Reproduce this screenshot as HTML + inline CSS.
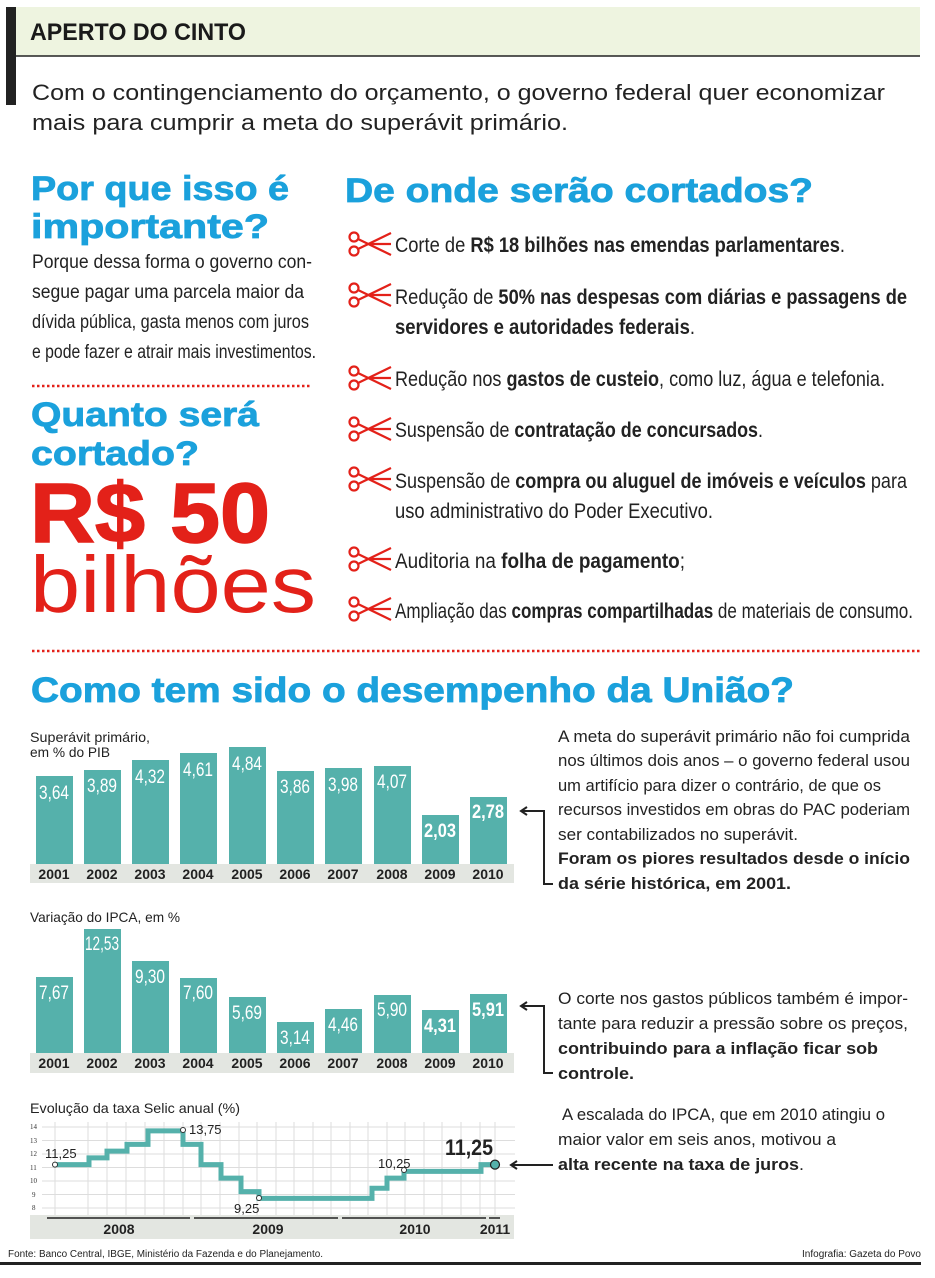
<!DOCTYPE html>
<html><head><meta charset="utf-8"><style>
html,body{margin:0;padding:0;background:#fff;}
svg{display:block;font-family:"Liberation Sans",sans-serif;}
.b{font-weight:bold;}
.w{fill:#fff;}
</style></head><body>
<svg width="935" height="1278" viewBox="0 0 935 1278" xmlns="http://www.w3.org/2000/svg">
<defs>
<g id="sc" fill="none" stroke="#e32119" stroke-width="2.2">
<circle cx="7" cy="6" r="4.5"/><circle cx="7" cy="20" r="4.5"/>
<path d="M11 8 L44 24 M11 18 L44 2 M22 13 L44 13"/>
</g>
</defs>
<!-- header -->
<rect x="12" y="7" width="908" height="49" fill="#eef4e0"/>
<rect x="6" y="7" width="10" height="98" fill="#222"/>
<line x1="16" y1="56" x2="920" y2="56" stroke="#222" stroke-width="1.5"/>
<text x="30" y="40" font-size="24" class="b" fill="#1a1a1a" textLength="216" lengthAdjust="spacingAndGlyphs">APERTO DO CINTO</text>
<text x="32" y="100" font-size="22" fill="#222" textLength="853" lengthAdjust="spacingAndGlyphs">Com o contingenciamento do orçamento, o governo federal quer economizar</text>
<text x="32" y="130" font-size="22" fill="#222" textLength="536" lengthAdjust="spacingAndGlyphs">mais para cumprir a meta do superávit primário.</text>

<!-- left column -->
<g fill="#1ba1dc" class="b" font-size="34" stroke="#1ba1dc" stroke-width="0.8">
<text x="31" y="200" textLength="258" lengthAdjust="spacingAndGlyphs">Por que isso é</text>
<text x="31" y="238" textLength="238" lengthAdjust="spacingAndGlyphs">importante?</text>
<text x="31" y="426" textLength="228" lengthAdjust="spacingAndGlyphs">Quanto será</text>
<text x="31" y="465" textLength="168" lengthAdjust="spacingAndGlyphs">cortado?</text>
</g>
<g fill="#222" font-size="19">
<text x="32" y="268" textLength="280" lengthAdjust="spacingAndGlyphs">Porque dessa forma o governo con-</text>
<text x="32" y="298" textLength="272" lengthAdjust="spacingAndGlyphs">segue pagar uma parcela maior da</text>
<text x="32" y="328" textLength="277" lengthAdjust="spacingAndGlyphs">dívida pública, gasta menos com juros</text>
<text x="32" y="358" textLength="284" lengthAdjust="spacingAndGlyphs">e pode fazer e atrair mais investimentos.</text>
</g>
<line x1="32" y1="386" x2="312" y2="386" stroke="#e32119" stroke-width="2.5" stroke-dasharray="2.5 2.5"/>
<text x="30" y="542" font-size="84" class="b" fill="#e32119" stroke="#e32119" stroke-width="1.5" textLength="240" lengthAdjust="spacingAndGlyphs">R$ 50</text>
<text x="30" y="612" font-size="80" fill="#e32119" textLength="286" lengthAdjust="spacingAndGlyphs">bilhões</text>

<!-- right column -->
<text x="345" y="202" font-size="34" class="b" fill="#1ba1dc" stroke="#1ba1dc" stroke-width="0.8" textLength="468" lengthAdjust="spacingAndGlyphs">De onde serão cortados?</text>
<use href="#sc" x="347" y="231"/>
<use href="#sc" x="347" y="282"/>
<use href="#sc" x="347" y="365"/>
<use href="#sc" x="347" y="416"/>
<use href="#sc" x="347" y="466"/>
<use href="#sc" x="347" y="546"/>
<use href="#sc" x="347" y="596"/>
<g fill="#222" font-size="21">
<text x="395" y="252" textLength="450" lengthAdjust="spacingAndGlyphs">Corte de <tspan class="b">R$ 18 bilhões nas emendas parlamentares</tspan>.</text>
<text x="395" y="304" textLength="512" lengthAdjust="spacingAndGlyphs">Redução de <tspan class="b">50% nas despesas com diárias e passagens de</tspan></text>
<text x="395" y="334" textLength="300" lengthAdjust="spacingAndGlyphs"><tspan class="b">servidores e autoridades federais</tspan>.</text>
<text x="395" y="386" textLength="490" lengthAdjust="spacingAndGlyphs">Redução nos <tspan class="b">gastos de custeio</tspan>, como luz, água e telefonia.</text>
<text x="395" y="437" textLength="368" lengthAdjust="spacingAndGlyphs">Suspensão de <tspan class="b">contratação de concursados</tspan>.</text>
<text x="395" y="488" textLength="512" lengthAdjust="spacingAndGlyphs">Suspensão de <tspan class="b">compra ou aluguel de imóveis e veículos</tspan> para</text>
<text x="395" y="518" textLength="318" lengthAdjust="spacingAndGlyphs">uso administrativo do Poder Executivo.</text>
<text x="395" y="568" textLength="290" lengthAdjust="spacingAndGlyphs">Auditoria na <tspan class="b">folha de pagamento</tspan>;</text>
<text x="395" y="618" textLength="518" lengthAdjust="spacingAndGlyphs">Ampliação das <tspan class="b">compras compartilhadas</tspan> de materiais de consumo.</text>
</g>
<line x1="32" y1="651" x2="920" y2="651" stroke="#e32119" stroke-width="2.5" stroke-dasharray="2.5 2.5"/>
<text x="31" y="702" font-size="35" class="b" fill="#1ba1dc" stroke="#1ba1dc" stroke-width="0.8" textLength="763" lengthAdjust="spacingAndGlyphs">Como tem sido o desempenho da União?</text>

<!-- chart 1 -->
<text x="30" y="742" font-size="14" fill="#222" textLength="120" lengthAdjust="spacingAndGlyphs">Superávit primário,</text>
<text x="30" y="757" font-size="14" fill="#222" textLength="80" lengthAdjust="spacingAndGlyphs">em % do PIB</text>
<rect x="30" y="864" width="484" height="19" fill="#e3e6e1"/>
<g fill="#55b1ab">
<rect x="36" y="776" width="37" height="88"/>
<rect x="84" y="770" width="37" height="94"/>
<rect x="132" y="760" width="37" height="104"/>
<rect x="180" y="753" width="37" height="111"/>
<rect x="229" y="747" width="37" height="117"/>
<rect x="277" y="771" width="37" height="93"/>
<rect x="325" y="768" width="37" height="96"/>
<rect x="374" y="766" width="37" height="98"/>
<rect x="422" y="815" width="37" height="49"/>
<rect x="470" y="797" width="37" height="67"/>
</g>
<g class="w" font-size="19" text-anchor="middle">
<text x="54" y="799" textLength="30" lengthAdjust="spacingAndGlyphs">3,64</text><text x="102" y="792" textLength="30" lengthAdjust="spacingAndGlyphs">3,89</text><text x="150" y="783" textLength="30" lengthAdjust="spacingAndGlyphs">4,32</text>
<text x="198" y="776" textLength="30" lengthAdjust="spacingAndGlyphs">4,61</text><text x="247" y="770" textLength="30" lengthAdjust="spacingAndGlyphs">4,84</text><text x="295" y="793" textLength="30" lengthAdjust="spacingAndGlyphs">3,86</text>
<text x="343" y="791" textLength="30" lengthAdjust="spacingAndGlyphs">3,98</text><text x="392" y="788" textLength="30" lengthAdjust="spacingAndGlyphs">4,07</text>
<text x="440" y="837" class="b" textLength="32" lengthAdjust="spacingAndGlyphs">2,03</text><text x="488" y="818" class="b" textLength="32" lengthAdjust="spacingAndGlyphs">2,78</text>
</g>
<g fill="#222" font-size="14" text-anchor="middle" class="b">
<text x="54" y="879">2001</text><text x="102" y="879">2002</text><text x="150" y="879">2003</text><text x="198" y="879">2004</text><text x="247" y="879">2005</text><text x="295" y="879">2006</text><text x="343" y="879">2007</text><text x="392" y="879">2008</text><text x="440" y="879">2009</text><text x="488" y="879">2010</text>
</g>
<g stroke="#222" stroke-width="2" fill="none">
<path d="M522 811 H544 V884 H553"/>
<path d="M527 807 L521 811 L527 815"/>
</g>
<g fill="#222" font-size="17">
<text x="558" y="742" textLength="352" lengthAdjust="spacingAndGlyphs">A meta do superávit primário não foi cumprida</text>
<text x="558" y="766" textLength="352" lengthAdjust="spacingAndGlyphs">nos últimos dois anos – o governo federal usou</text>
<text x="558" y="791" textLength="323" lengthAdjust="spacingAndGlyphs">um artifício para dizer o contrário, de que os</text>
<text x="558" y="815" textLength="352" lengthAdjust="spacingAndGlyphs">recursos investidos em obras do PAC poderiam</text>
<text x="558" y="840" textLength="240" lengthAdjust="spacingAndGlyphs">ser contabilizados no superávit.</text>
<text x="558" y="864" class="b" textLength="352" lengthAdjust="spacingAndGlyphs">Foram os piores resultados desde o início</text>
<text x="558" y="889" class="b" textLength="233" lengthAdjust="spacingAndGlyphs">da série histórica, em 2001.</text>
</g>

<!-- chart 2 -->
<text x="30" y="922" font-size="14" fill="#222" textLength="150" lengthAdjust="spacingAndGlyphs">Variação do IPCA, em %</text>
<rect x="30" y="1053" width="484" height="20" fill="#e3e6e1"/>
<g fill="#55b1ab">
<rect x="36" y="977" width="37" height="76"/>
<rect x="84" y="929" width="37" height="124"/>
<rect x="132" y="961" width="37" height="92"/>
<rect x="180" y="978" width="37" height="75"/>
<rect x="229" y="997" width="37" height="56"/>
<rect x="277" y="1022" width="37" height="31"/>
<rect x="325" y="1009" width="37" height="44"/>
<rect x="374" y="995" width="37" height="58"/>
<rect x="422" y="1010" width="37" height="43"/>
<rect x="470" y="994" width="37" height="59"/>
</g>
<g class="w" font-size="19" text-anchor="middle">
<text x="54" y="999" textLength="30" lengthAdjust="spacingAndGlyphs">7,67</text><text x="102" y="950" textLength="34" lengthAdjust="spacingAndGlyphs">12,53</text><text x="150" y="983" textLength="30" lengthAdjust="spacingAndGlyphs">9,30</text>
<text x="198" y="999" textLength="30" lengthAdjust="spacingAndGlyphs">7,60</text><text x="247" y="1019" textLength="30" lengthAdjust="spacingAndGlyphs">5,69</text><text x="295" y="1044" textLength="30" lengthAdjust="spacingAndGlyphs">3,14</text>
<text x="343" y="1031" textLength="30" lengthAdjust="spacingAndGlyphs">4,46</text><text x="392" y="1016" textLength="30" lengthAdjust="spacingAndGlyphs">5,90</text>
<text x="440" y="1032" class="b" textLength="32" lengthAdjust="spacingAndGlyphs">4,31</text><text x="488" y="1016" class="b" textLength="32" lengthAdjust="spacingAndGlyphs">5,91</text>
</g>
<g fill="#222" font-size="14" text-anchor="middle" class="b">
<text x="54" y="1068">2001</text><text x="102" y="1068">2002</text><text x="150" y="1068">2003</text><text x="198" y="1068">2004</text><text x="247" y="1068">2005</text><text x="295" y="1068">2006</text><text x="343" y="1068">2007</text><text x="392" y="1068">2008</text><text x="440" y="1068">2009</text><text x="488" y="1068">2010</text>
</g>
<g stroke="#222" stroke-width="2" fill="none">
<path d="M522 1006 H544 V1073 H553"/>
<path d="M527 1002 L521 1006 L527 1010"/>
</g>
<g fill="#222" font-size="17">
<text x="558" y="1004" textLength="350" lengthAdjust="spacingAndGlyphs">O corte nos gastos públicos também é impor-</text>
<text x="558" y="1029" textLength="350" lengthAdjust="spacingAndGlyphs">tante para reduzir a pressão sobre os preços,</text>
<text x="558" y="1054" class="b" textLength="320" lengthAdjust="spacingAndGlyphs">contribuindo para a inflação ficar sob</text>
<text x="558" y="1079" class="b" textLength="76" lengthAdjust="spacingAndGlyphs">controle.</text>
</g>

<!-- chart 3 Selic -->
<text x="30" y="1113" font-size="14" fill="#222" textLength="210" lengthAdjust="spacingAndGlyphs">Evolução da taxa Selic anual (%)</text>
<g stroke="#ddd" stroke-width="1">
<line x1="42" y1="1127" x2="515" y2="1127"/><line x1="42" y1="1140.5" x2="515" y2="1140.5"/><line x1="42" y1="1154" x2="515" y2="1154"/><line x1="42" y1="1167.5" x2="515" y2="1167.5"/><line x1="42" y1="1181" x2="515" y2="1181"/><line x1="42" y1="1194.5" x2="515" y2="1194.5"/><line x1="42" y1="1208" x2="515" y2="1208"/>
<path d="M55 1122V1215M88 1122V1215M107 1122V1215M126 1122V1215M145 1122V1215M164 1122V1215M183 1122V1215M201 1122V1215M220 1122V1215M239 1122V1215M257 1122V1215M276 1122V1215M294 1122V1215M313 1122V1215M331 1122V1215M350 1122V1215M368 1122V1215M387 1122V1215M405 1122V1215M424 1122V1215M442 1122V1215M461 1122V1215M480 1122V1215M495 1122V1215"/>
</g>
<g fill="#333" font-size="7" font-family="Liberation Serif, serif">
<text x="30" y="1129">14</text><text x="30" y="1143">13</text><text x="30" y="1156">12</text><text x="30" y="1170">11</text><text x="30" y="1183">10</text><text x="32" y="1197">9</text><text x="32" y="1210">8</text>
</g>
<rect x="30" y="1215" width="484" height="24" fill="#e3e6e1"/>
<g stroke="#222" stroke-width="1.5">
<line x1="47" y1="1218" x2="190" y2="1218"/><line x1="194" y1="1218" x2="338" y2="1218"/><line x1="342" y1="1218" x2="486" y2="1218"/><line x1="489" y1="1218" x2="500" y2="1218"/>
</g>
<g fill="#222" font-size="14" text-anchor="middle" class="b">
<text x="119" y="1234">2008</text><text x="268" y="1234">2009</text><text x="415" y="1234">2010</text><text x="495" y="1234">2011</text>
</g>
<path d="M55 1164.6 H89 V1157.9 H107 V1151.1 H127 V1144.4 H148 V1130.9 H183 V1144.4 H201 V1164.6 H221 V1178.1 H241 V1191.6 H259 V1198.4 H372 V1188.3 H387 V1178.1 H404 V1171.4 H481 V1164.6 H495" fill="none" stroke="#55b1ab" stroke-width="5"/>
<g fill="#fff" stroke="#333" stroke-width="1">
<circle cx="55" cy="1164.6" r="2.5"/><circle cx="183" cy="1130" r="2.5"/><circle cx="259" cy="1198" r="2.5"/><circle cx="404" cy="1170" r="2.5"/>
</g>
<circle cx="495" cy="1164.6" r="4.5" fill="#55b1ab" stroke="#222" stroke-width="1.2"/>
<g fill="#222" font-size="13">
<text x="45" y="1158">11,25</text><text x="189" y="1134">13,75</text><text x="234" y="1213">9,25</text><text x="378" y="1168">10,25</text>
</g>
<text x="445" y="1155" font-size="22" class="b" fill="#222" textLength="48" lengthAdjust="spacingAndGlyphs">11,25</text>
<g stroke="#222" stroke-width="2" fill="none">
<path d="M512 1165 H553"/><path d="M517 1161 L511 1165 L517 1169"/>
</g>
<g fill="#222" font-size="17">
<text x="562" y="1120" textLength="323" lengthAdjust="spacingAndGlyphs">A escalada do IPCA, que em 2010 atingiu o</text>
<text x="558" y="1145" textLength="278" lengthAdjust="spacingAndGlyphs">maior valor em seis anos, motivou a</text>
<text x="558" y="1170" textLength="246" lengthAdjust="spacingAndGlyphs"><tspan class="b">alta recente na taxa de juros</tspan>.</text>
</g>

<!-- footer -->
<text x="8" y="1257" font-size="10" fill="#222" textLength="315" lengthAdjust="spacingAndGlyphs">Fonte: Banco Central, IBGE, Ministério da Fazenda e do Planejamento.</text>
<text x="921" y="1257" font-size="10" fill="#222" text-anchor="end">Infografia: Gazeta do Povo</text>
<rect x="0" y="1262" width="921" height="3" fill="#222"/>
</svg>
</body></html>
